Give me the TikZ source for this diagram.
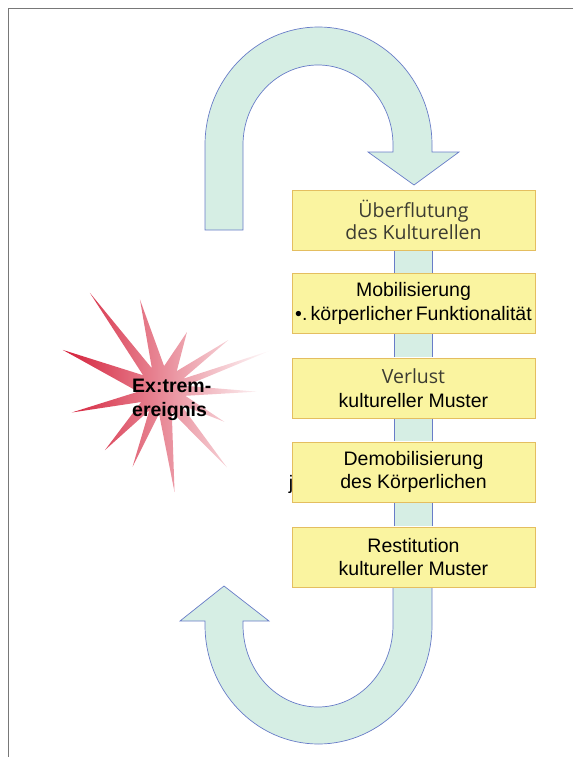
\documentclass[tikz,border=0pt]{standalone}
\usepackage{fontspec}
\setmainfont{Liberation Sans}
\newfontfamily\softsans{Open Sans}
\definecolor{boxfill}{RGB}{250,244,160}
\definecolor{boxline}{RGB}{228,190,96}
\definecolor{loopfill}{RGB}{214,238,228}
\definecolor{loopline}{RGB}{104,124,200}
\definecolor{starred}{RGB}{212,32,58}
\definecolor{framegray}{RGB}{120,120,120}
\definecolor{softtext}{RGB}{60,60,50}
\begin{document}
\begin{tikzpicture}[x=1pt,y=-1pt]
	\tikzstyle{stage}=[rectangle,draw=boxline,fill=boxfill,line width=0.8pt,minimum width=243pt,minimum height=60pt,align=center,inner sep=2pt,font=\fontsize{19.5}{23.5}\selectfont]
	\tikzstyle{band}=[draw=loopline,line width=0.7pt,double=loopfill,double distance=37pt,shorten <=0.4pt,shorten >=0.4pt]
	\tikzstyle{loop}=[draw=loopline,fill=loopfill,line width=0.7pt,line join=miter]

	\useasboundingbox (0,0) rectangle (573,757);
	\draw[framegray, line width=0.8pt] (573,8) -- (8,8) -- (8,757);

	% upper turn
	\draw[loop] (205,230) -- (205,145) arc[start angle=180,end angle=0,x radius=113.5pt,y radius=118pt]
		-- (432,152) -- (459,152) -- (414,185) -- (368,152) -- (393,152) -- (393,145)
		arc[start angle=0,end angle=180,x radius=75pt,y radius=80pt] -- (243,230) -- cycle;

	% lower turn
	\draw[loop] (432,580) -- (432,625) arc[start angle=0,end angle=-180,x radius=113.5pt,y radius=119pt]
		-- (205,621) -- (180,621) -- (224,586) -- (269,621) -- (243,621) -- (243,625)
		arc[start angle=180,end angle=360,x radius=75pt,y radius=82pt] -- (393,580) -- cycle;

	% star
	\shade[shift={(162,390)}, left color=starred, right color=white]
		(126.6:121pt) -- (115:24pt) -- (103.7:93pt) -- (85:24pt) -- (66.7:63pt) -- (52:24pt)
		-- (37:83pt) -- (28:24pt) -- (20:117pt) -- (10:24pt) -- (-1:95pt) -- (-14:24pt)
		-- (-27:70pt) -- (-38:24pt) -- (-50:101pt) -- (-66:24pt) -- (-83:103pt) -- (-97:24pt)
		-- (-111:82pt) -- (-122:24pt) -- (-133.5:83pt) -- (-150:24pt) -- (-166:93pt) -- (-176:24pt)
		-- (158:107pt) -- (142:24pt) -- cycle;
	\node[anchor=west, align=left, inner sep=0, font=\bfseries\fontsize{19.5}{24}\selectfont] (extrem) at (132,400) {Ex:trem-\\ereignis};

	\node [stage, font=\softsans\fontsize{19.5}{22}\selectfont, text=softtext] (b1) at (413.5,220) {Überflutung\\des Kulturellen};
	\node [stage] (b2) at (413.5,303.5) {Mobilisierung\\•.\,körperlicher\,Funktionalität};
	\node [stage] (b3) at (413.5,388) {{\softsans\color{softtext}Verlust}\\kultureller Muster};
	\node [stage] (b4) at (413.5,472) {Demobilisierung\\des Körperlichen};
	\node [stage] (b5) at (413.5,557) {Restitution\\kultureller Muster};
	\node [inner sep=0, font=\fontsize{19.5}{23.5}\selectfont] (jmark) at (291,484) {j};

	\draw[band] (b1) -- (b2);
	\draw[band] (b2) -- (b3);
	\draw[band] (b3) -- (b4);
	\draw[band] (b4) -- (b5);
\end{tikzpicture}
\end{document}
